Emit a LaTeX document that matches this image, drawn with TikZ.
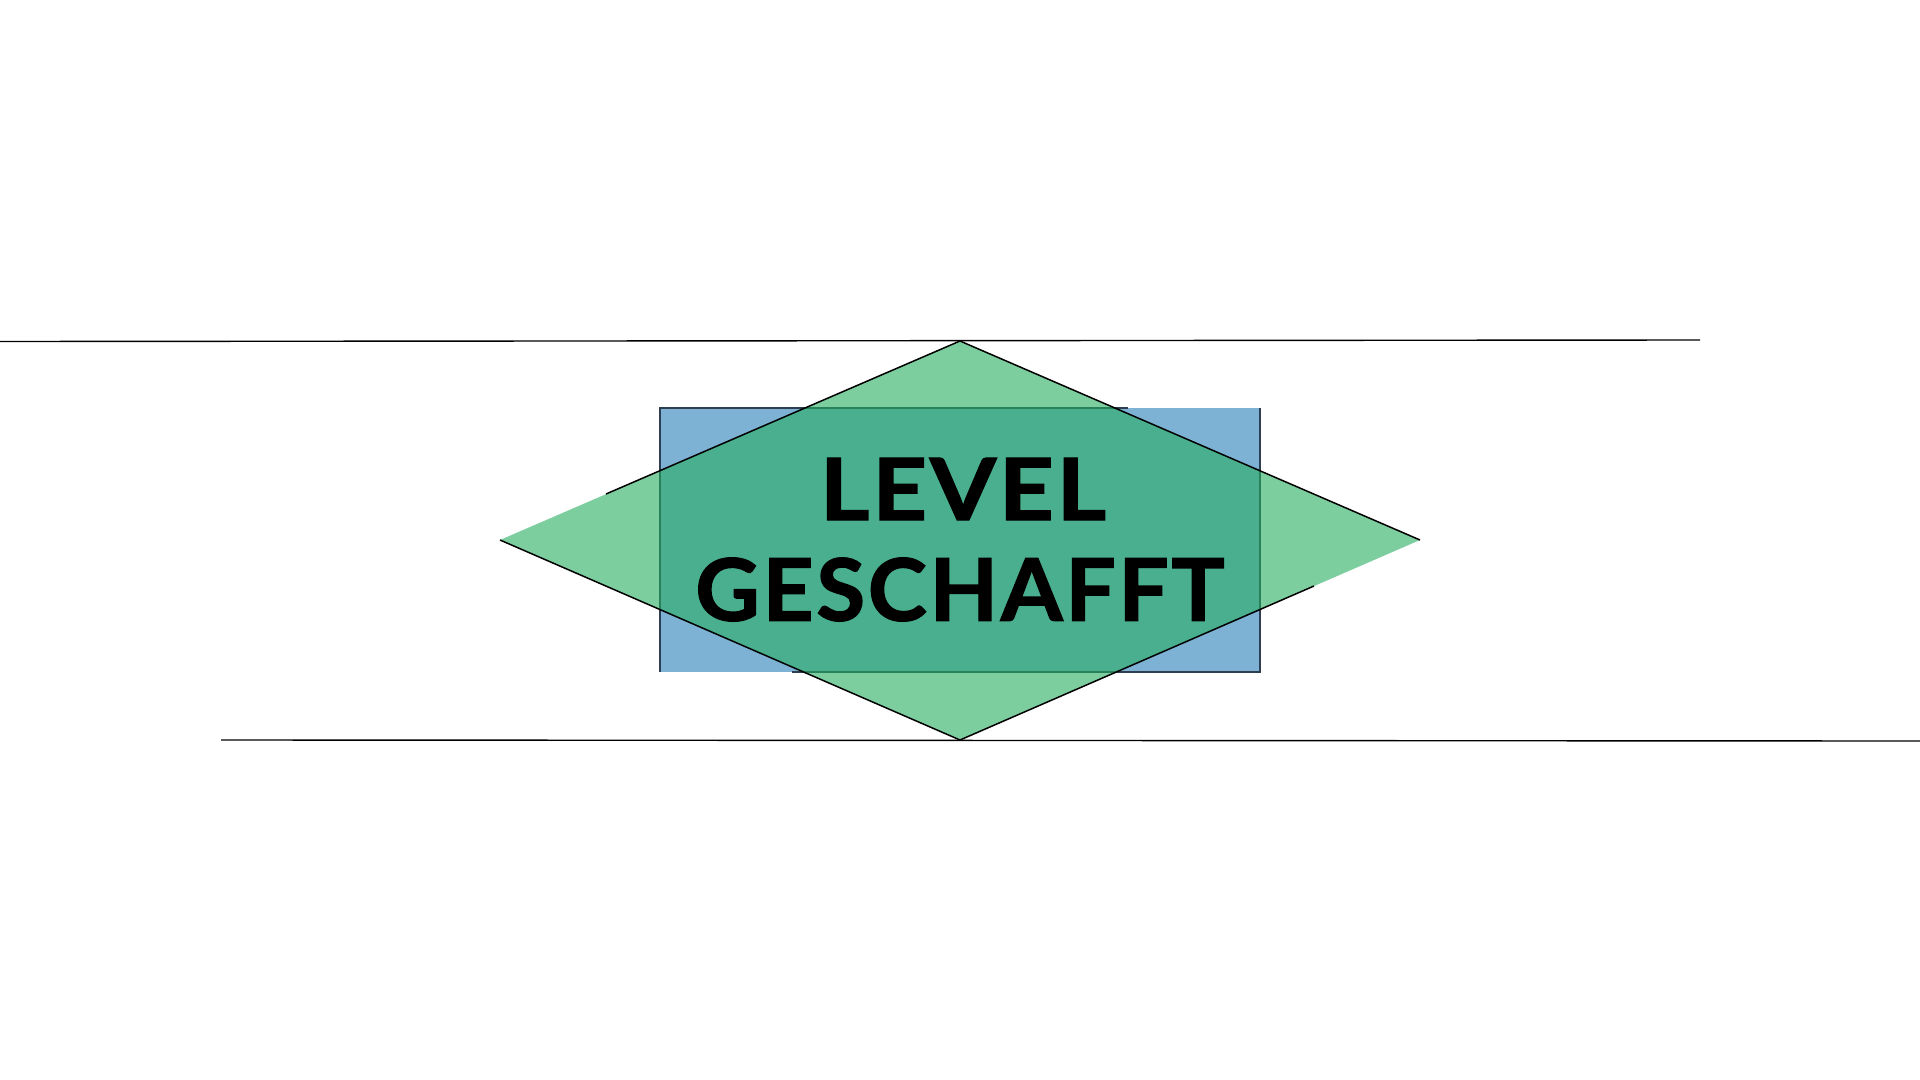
\documentclass[tikz,border=0pt]{standalone}
\usepackage{fontspec}
\setmainfont{Lato}
\newfontfamily\titlefont[LetterSpace=3,BoldFeatures={FakeBold=1.5}]{Lato}
\definecolor{blueFill}{HTML}{2980B9}
\definecolor{greenFill}{HTML}{27AE60}
\definecolor{blueLine}{HTML}{2C3E50}
\tikzset{
  titletext/.style={inner sep=0pt, outer sep=0pt, text=black}
}
\begin{document}
\begin{tikzpicture}[x=0.05cm,y=-0.05cm,line width=0.05cm]
\useasboundingbox (0,0) rectangle (1920,1080);
\fill[white] (0,0) rectangle (1920,1080);
% long lines
\coordinate (tlA) at (0,341.5);
\coordinate (tlB) at (1700,340);
\coordinate (blA) at (221,740);
\coordinate (blB) at (1920,741);
\draw[black,line width=0.07cm] (tlA) -- (tlB);
\draw[black,line width=0.07cm] (blA) -- (blB);
% rectangle
\coordinate (rNW) at (660,408);
\coordinate (rNE) at (1260,408);
\coordinate (rSE) at (1260,672);
\coordinate (rSW) at (660,672);
\coordinate (rTopEnd) at (1128,408);
\coordinate (rBotEnd) at (792,672);
\fill[blueFill,fill opacity=0.6] (rNW) -- (rNE) -- (rSE) -- (rSW) -- cycle;
\draw[blueLine,line width=0.08cm,line cap=butt] (rTopEnd) -- (rNW) -- (rSW);
\draw[blueLine,line width=0.08cm,line cap=butt] (rNE) -- (rSE) -- (rBotEnd);
% diamond
\coordinate (dT) at (960,341);
\coordinate (dR) at (1420,540);
\coordinate (dB) at (960,740);
\coordinate (dL) at (500,540);
\coordinate (dA) at (606,494);
\coordinate (dC) at (1314,586);
\fill[greenFill,fill opacity=0.6] (dT) -- (dR) -- (dB) -- (dL) -- cycle;
\draw[black,line width=0.075cm,line join=miter] (dA) -- (dT) -- (dR);
\draw[black,line width=0.075cm,line join=miter] (dL) -- (dB) -- (dC);
% text
\node[titletext] (lineOne) at (963,489) {\resizebox{14.3cm}{3.1cm}{\titlefont\bfseries LEVEL}};
\node[titletext] (lineTwo) at (960,589.5) {\resizebox{26.45cm}{3.15cm}{\titlefont\bfseries GESCHAFFT}};
\end{tikzpicture}
\end{document}
